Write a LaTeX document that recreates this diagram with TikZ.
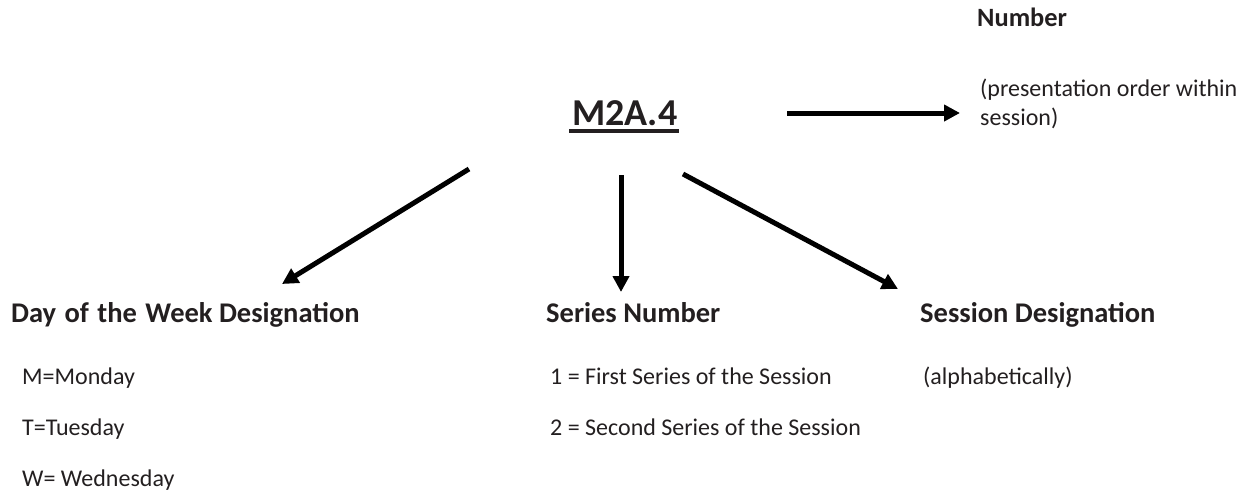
\documentclass[tikz,border=0pt]{standalone}
\usepackage{fontspec}
\setmainfont{Carlito}
\usetikzlibrary{arrows.meta}
\definecolor{ink}{HTML}{231F20}
\begin{document}
\begin{tikzpicture}[x=1pt,y=-1pt,
  lbl/.style={anchor=base west,inner sep=0pt,text=ink,font=\fontsize{24}{29}\selectfont},
  head/.style={lbl,font=\fontsize{28.5}{34}\selectfont\bfseries},
  conn/.style={line width=5pt,-{Triangle[length=16pt,width=16pt]}}]
\useasboundingbox (0,0) rectangle (1253,493);

% code label with a heavy underline
\node[anchor=base west,inner sep=0pt,text=ink,font=\fontsize{38}{46}\selectfont\bfseries] (code) at (572,125) {M2A.4};
\draw[line width=3.3pt,ink] ([xshift=-3pt,yshift=-6pt]code.base west) -- ([xshift=1pt,yshift=-6pt]code.base east);

% right branch: number
\node[head,font=\fontsize{26.4}{32}\selectfont\bfseries] (num) at (977,26) {Number};
\node[lbl] (numA) at (980,96) {(presentation order within};
\node[lbl] (numB) at (980,125) {session)};

% lower branches
\node[head] (day) at (11,322) {Day\hspace{2pt} of\hspace{2pt} the\hspace{2pt} Week Designation};
\node[lbl] (dayM) at (22,384) {M=Monday};
\node[lbl] (dayT) at (22,435) {T=Tuesday};
\node[lbl] (dayW) at (22,486) {W= Wednesday};

\node[head] (ser) at (546,322) {Series Number};
\node[lbl] (ser1) at (550,384) {1 = First Series of the Session};
\node[lbl] (ser2) at (550,435) {2 = Second Series of the Session};

\node[head] (ses) at (920,322) {Session Designation};
\node[lbl] (sesA) at (923,384) {(alphabetically)};

% arrow end points
\coordinate (rS) at (787,113);
\coordinate (rE) at (960,113);
\coordinate (lS) at (469,169);
\coordinate (lE) at (282,284);
\coordinate (dS) at (621,175);
\coordinate (dE) at (621,292);
\coordinate (sS) at (683,174);
\coordinate (sE) at (898,289);

\draw[conn] (rS) -- (rE);
\draw[conn] (lS) -- (lE);
\draw[conn] (dS) -- (dE);
\draw[conn] (sS) -- (sE);
\end{tikzpicture}
\end{document}
